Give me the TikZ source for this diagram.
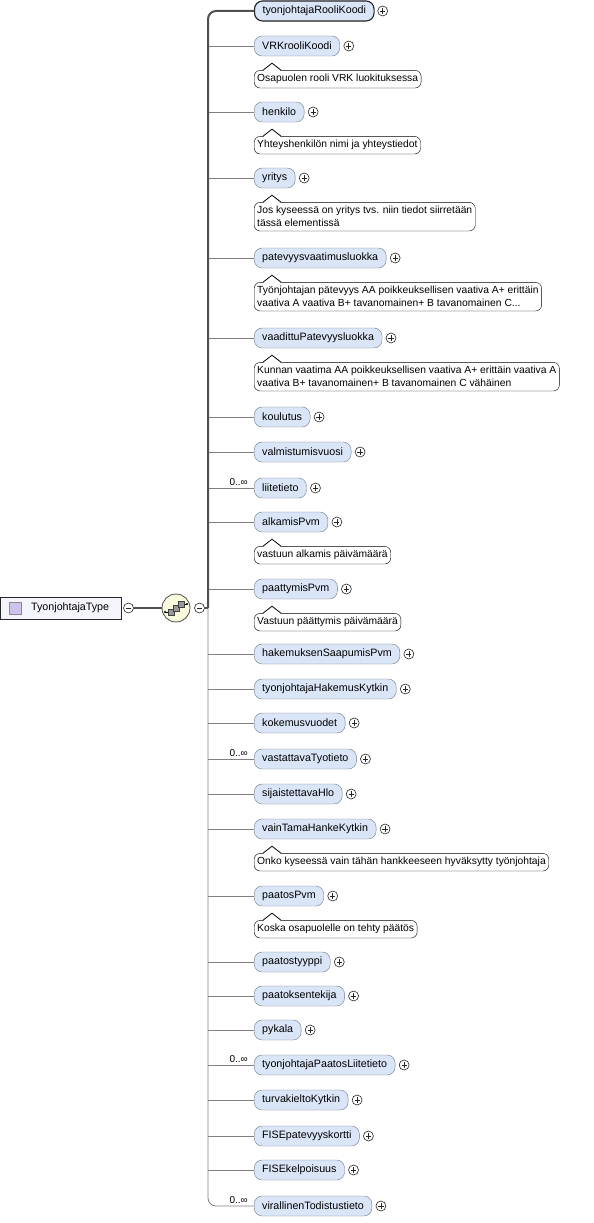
\documentclass[tikz,border=0pt]{standalone}
\usepackage{fontspec}
\setmainfont{Liberation Sans}
\usetikzlibrary{positioning}

\definecolor{elemfill}{RGB}{218,230,248}
\definecolor{elemline}{RGB}{112,120,134}
\definecolor{wiregray}{RGB}{128,128,128}
\definecolor{wiredark}{RGB}{80,80,80}
\definecolor{seqfill}{RGB}{250,250,222}
\definecolor{rootfill}{RGB}{244,244,252}
\definecolor{iconfill}{RGB}{204,194,236}

\tikzset{
  elem/.style={draw=elemline, fill=elemfill, rounded corners=8pt, anchor=west,
    minimum height=20pt, inner xsep=8pt, inner ysep=0pt, font=\fontsize{10.7}{12}\selectfont},
  elemsel/.style={elem, draw=black!85, line width=1.1pt},
  ann/.style={draw=black, fill=white, rounded corners=6pt, anchor=north west, align=left,
    inner xsep=3pt, inner ysep=4pt, font=\fontsize{10.3}{13}\selectfont},
  mult/.style={font=\fontsize{10}{11}\selectfont, inner sep=0pt, anchor=south east},
  pm/.style={circle, draw=black!85, fill=white, minimum size=10pt, inner sep=0pt, line width=0.6pt},
  plusc/.style={pm, path picture={
    \draw[line width=0.6pt] ([xshift=-2.6pt]path picture bounding box.center) -- ++(5.2pt,0pt);
    \draw[line width=0.6pt] ([yshift=-2.6pt]path picture bounding box.center) -- ++(0pt,5.2pt);}},
  minusc/.style={pm, path picture={
    \draw[line width=0.6pt] ([xshift=-2.6pt]path picture bounding box.center) -- ++(5.2pt,0pt);}},
  wire/.style={draw=wiregray, line width=0.8pt},
  thickwire/.style={draw=wiredark, line width=2pt},
}

\begin{document}
\begin{tikzpicture}[x=1pt, y=-1pt]
\useasboundingbox (0,0) rectangle (594,1223);
% --- typ ---
\node[draw=black!85, fill=rootfill, minimum width=121pt, minimum height=22pt, inner sep=0pt] (root) at (60.5,608) {};
\node[draw=black!45, fill=iconfill, minimum size=12pt, inner sep=0pt] (rooticon) at (15,608) {};
\node[anchor=west, inner sep=0pt, font=\fontsize{10.7}{12}\selectfont] (rootlbl) at (31,608) {TyonjohtajaType};
\node[minusc] (m1) at (128.5,608) {};
% --- sekvenssi ---
\node[circle, draw=black!70, fill=seqfill, minimum size=28pt, inner sep=0pt, line width=0.8pt] (seq) at (176,608) {};
\begin{scope}[shift={(seq.center)}]
  \draw[line width=0.7pt] (-11,4) -- (-5,4);
  \fill (-11,4) circle (1.2pt);
  \draw[line width=0.7pt] (5,-4) -- (11,-4);
  \fill (11,-4) circle (1.2pt);
  \draw[fill=black!40, draw=black!75] (-8,1) rectangle (-2,7);
  \draw[fill=black!40, draw=black!75] (-3,-3) rectangle (3,3);
  \draw[fill=black!40, draw=black!75] (2,-7) rectangle (8,-1);
\end{scope}
\node[minusc] (m2) at (199.5,608) {};
\coordinate (spine) at (208,608);
\draw[thickwire] (m1.east) -- (seq.west);
\draw[thickwire] (m2.east) -- (spine);
% --- elementit ---
\foreach \y/\nm [count=\i] in {11/tyonjohtajaRooliKoodi, 46/VRKrooliKoodi, 112/henkilo,
  178/yritys, 258/patevyysvaatimusluokka, 338/vaadittuPatevyysluokka, 417/koulutus,
  452/valmistumisvuosi, 488/liitetieto, 522/alkamisPvm, 589/paattymisPvm,
  654/hakemuksenSaapumisPvm, 689/tyonjohtajaHakemusKytkin, 723/kokemusvuodet,
  759/vastattavaTyotieto, 794/sijaistettavaHlo, 829/vainTamaHankeKytkin, 896/paatosPvm,
  962/paatostyyppi, 996/paatoksentekija, 1030/pykala, 1065/tyonjohtajaPaatosLiitetieto,
  1100/turvakieltoKytkin, 1136/FISEpatevyyskortti, 1170/FISEkelpoisuus,
  1206/virallinenTodistustieto}
{
  \node[elem] (e\i) at (254,\y) {\nm};
  \node[plusc, right=3.5pt of e\i] (p\i) {};
}
\node[elemsel] (e1sel) at (e1.west) {tyonjohtajaRooliKoodi};
% --- liitokset ---
\foreach \i in {2,...,25} { \draw[wire] (spine |- e\i.west) -- (e\i.west); }
\draw[wire, rounded corners=8pt] (spine) |- (e26.west);
\draw[thickwire, rounded corners=8pt] (spine) |- (e1sel.west);
\foreach \i in {9,15,22,26} { \node[mult] (n\i) at ([xshift=-6pt, yshift=2pt]e\i.west) {0..∞}; }
% --- selitteet ---
\foreach \i/\txt in {2/{Osapuolen rooli VRK luokituksessa},
  3/{Yhteyshenkilön nimi ja yhteystiedot},
  4/{Jos kyseessä on yritys tvs. niin tiedot siirretään\\tässä elementissä},
  5/{Työnjohtajan pätevyys AA poikkeuksellisen vaativa A+ erittäin\\vaativa A vaativa B+ tavanomainen+ B tavanomainen C...},
  6/{Kunnan vaatima AA poikkeuksellisen vaativa A+ erittäin vaativa A\\vaativa B+ tavanomainen+ B tavanomainen C vähäinen},
  10/{vastuun alkamis päivämäärä},
  11/{Vastuun päättymis päivämäärä},
  17/{Onko kyseessä vain tähän hankkeeseen hyväksytty työnjohtaja},
  18/{Koska osapuolelle on tehty päätös}}
{
  \node[ann] (a\i) at ([yshift=-14pt]e\i.south west) {\txt};
  \fill[white] ([xshift=9pt, yshift=-0.7pt]a\i.north west) -- ([xshift=18pt, yshift=7pt]a\i.north west)
    -- ([xshift=27pt, yshift=-0.7pt]a\i.north west) -- cycle;
  \draw[line width=0.8pt] ([xshift=9pt]a\i.north west) -- ([xshift=18pt, yshift=7pt]a\i.north west)
    -- ([xshift=27pt]a\i.north west);
}
\end{tikzpicture}
\end{document}
